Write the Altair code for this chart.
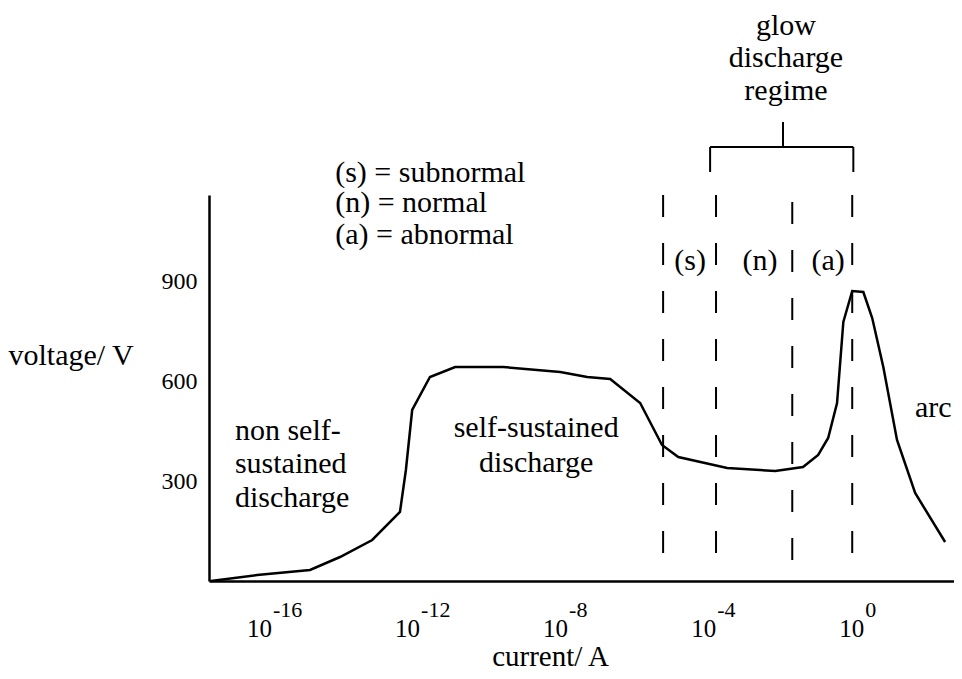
import altair as alt
import pandas as pd

# ---- data (x = log10 of current in A, y = voltage in V) ----
curve_logI = [-17.68, -16.43, -15.0, -14.19, -13.32, -12.57, -12.41, -12.24, -11.76, -11.08,
              -9.78, -8.24, -7.51, -6.89, -6.08, -5.49, -5.05, -3.73, -2.43, -1.68,
              -1.27, -1.0, -0.76, -0.59, -0.35, -0.05, 0.19, 0.49, 0.86, 1.35, 2.16]
curve_V = [0, 18, 33, 72, 123, 207, 333, 513, 612, 642,
           642, 627, 612, 606, 534, 408, 372, 339, 330, 342,
           378, 429, 534, 777, 870, 867, 789, 642, 423, 264, 117]

y_ticks = [300, 600, 900]
x_tick_exps = [-16, -12, -8, -4, 0]
x_tick_base = ["10"] * 5
x_tick_sup = ["-16", "-12", "-8", "-4", "0"]

# regime boundaries (dashed lines)
bound_logI = [-5.46, -4.03, -1.97, -0.35]
bound_top = [1158, 1158, 1137, 1158]
bound_bottom = [60, 75, 60, 75]

# glow discharge bracket
br_left, br_right, br_mid = -4.19, -0.32, -2.22
br_bar, br_tip, br_stem = 1302, 1227, 1377

# annotations
left_text = ["(s) = subnormal", "(n) = normal", "(a) = abnormal",
             "non self-", "sustained", "discharge"]
left_x = [-14.32, -14.32, -14.32, -17.03, -17.03, -17.03]
left_y = [1197, 1107, 1011, 423, 324, 222]

center_text = ["glow", "discharge", "regime", "self-sustained", "discharge",
               "(s)", "(n)", "(a)", "arc"]
center_x = [-2.14, -2.14, -2.14, -8.89, -8.89, -4.73, -2.84, -1.0, 1.84]
center_y = [1638, 1542, 1443, 432, 327, 933, 933, 933, 492]

FONT = "'Liberation Serif', 'Times New Roman', Times, serif"
XDOM = [-17.73, 2.40]
YDOM = [0, 1158]

curve = pd.DataFrame({"logI": curve_logI, "V": curve_V, "i": range(len(curve_V))})
bounds = pd.DataFrame({"logI": bound_logI, "top": bound_top, "bottom": bound_bottom})
ticks = pd.DataFrame({"logI": x_tick_exps, "base": x_tick_base, "sup": x_tick_sup})
left_df = pd.DataFrame({"t": left_text, "x": left_x, "y": left_y})
center_df = pd.DataFrame({"t": center_text, "x": center_x, "y": center_y})
bracket_h = pd.DataFrame({"x": [br_left], "x2": [br_right], "y": [br_bar]})
bracket_v = pd.DataFrame({"x": [br_left, br_right, br_mid],
                          "y": [br_bar, br_bar, br_stem],
                          "y2": [br_tip, br_tip, br_bar]})

xscale = alt.Scale(domain=XDOM, nice=False, zero=False)
yscale = alt.Scale(domain=YDOM, nice=False, zero=False)

line = alt.Chart(curve).mark_line(color="black", strokeWidth=2.5).encode(
    x=alt.X("logI:Q", scale=xscale,
            axis=alt.Axis(labels=False, ticks=False, grid=False, domainColor="black",
                          domainWidth=2.5, title="current/ A", titleFont=FONT,
                          titleFontSize=29, titleFontWeight="normal", titleColor="black",
                          titleX=341, titleY=84, titleAlign="center",
                          titleBaseline="alphabetic")),
    y=alt.Y("V:Q", scale=yscale,
            axis=alt.Axis(values=y_ticks, ticks=False, grid=False, domainColor="black",
                          domainWidth=2.5, labelFont=FONT, labelFontSize=24,
                          labelColor="black", labelPadding=12,
                          title="voltage/ V", titleFont=FONT, titleFontSize=30,
                          titleFontWeight="normal", titleColor="black", titleAngle=0,
                          titleAlign="left", titleBaseline="alphabetic",
                          titleX=-201, titleY=169)),
    order="i:Q",
)

dashed = alt.Chart(bounds).mark_rule(color="black", strokeWidth=2, strokeDash=[22, 26]).encode(
    x=alt.X("logI:Q", scale=xscale),
    y=alt.Y("top:Q", scale=yscale),
    y2="bottom:Q",
)

bh = alt.Chart(bracket_h).mark_rule(color="black", strokeWidth=2).encode(
    x=alt.X("x:Q", scale=xscale), x2="x2:Q", y=alt.Y("y:Q", scale=yscale))
bv = alt.Chart(bracket_v).mark_rule(color="black", strokeWidth=2).encode(
    x=alt.X("x:Q", scale=xscale), y=alt.Y("y:Q", scale=yscale), y2="y2:Q")

txt_left = alt.Chart(left_df).mark_text(font=FONT, fontSize=30, align="left",
                                        baseline="alphabetic", color="black").encode(
    x=alt.X("x:Q", scale=xscale), y=alt.Y("y:Q", scale=yscale), text="t:N")
txt_center = alt.Chart(center_df).mark_text(font=FONT, fontSize=30, align="center",
                                            baseline="alphabetic", color="black").encode(
    x=alt.X("x:Q", scale=xscale), y=alt.Y("y:Q", scale=yscale), text="t:N")

tick_base = alt.Chart(ticks).mark_text(font=FONT, fontSize=25, align="right",
                                       baseline="alphabetic", color="black", dx=-1).encode(
    x=alt.X("logI:Q", scale=xscale), y=alt.value(442), text="base:N")
tick_sup = alt.Chart(ticks).mark_text(font=FONT, fontSize=22, align="left",
                                      baseline="alphabetic", color="black", dx=0).encode(
    x=alt.X("logI:Q", scale=xscale), y=alt.value(422), text="sup:N")

chart = alt.layer(line, dashed, bh, bv, txt_left, txt_center, tick_base, tick_sup).properties(
    width=745, height=386,
    padding={"left": 201, "top": 187, "right": 0, "bottom": 90},
    autosize=alt.AutoSizeParams(type="none"),
    background="white",
).configure_view(stroke=None)

chart.save("out.html", embed_options={"renderer": "svg", "actions": False})
